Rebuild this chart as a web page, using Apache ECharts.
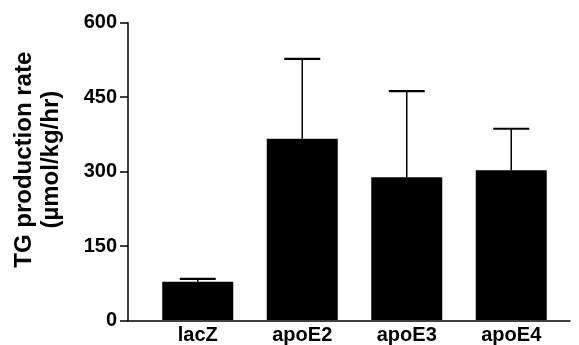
<!DOCTYPE html>
<html>
<head>
<meta charset="utf-8">
<script src="https://cdn.jsdelivr.net/npm/echarts@6/dist/echarts.min.js"></script>
<style>
html,body{margin:0;padding:0;background:#fff;}
#chart{width:579px;height:345px;}
</style>
</head>
<body>
<div id="chart"></div>
<script>
const categories = ['lacZ', 'apoE2', 'apoE3', 'apoE4'];
const means = [77, 366, 288, 302];
const upperErr = [83, 527, 462, 386];
const yMin = 0, yMax = 600, yStep = 150;

const FONT = '"Liberation Sans", Arial, sans-serif';
const chart = echarts.init(document.getElementById('chart'));

const errData = categories.map((c, i) => [i, means[i], upperErr[i]]);

chart.setOption({
  animation: false,
  backgroundColor: '#fff',
  grid: [
    {left: 145.5, right: 15.5, top: 22.7, bottom: 24.3},
    {left: 128, right: 9, top: 22.7, bottom: 24.3}
  ],
  xAxis: [
    {
      gridIndex: 0, type: 'category', data: categories,
      axisLine: {show: false}, axisTick: {show: false},
      axisLabel: {color: '#000', fontFamily: FONT, fontWeight: 'bold', fontSize: 20, margin: 5}
    },
    {
      gridIndex: 1, type: 'value', min: 0, max: 1,
      axisLine: {show: true, lineStyle: {color: '#000', width: 1.5}},
      axisTick: {show: false}, axisLabel: {show: false}, splitLine: {show: false}
    }
  ],
  yAxis: [
    {gridIndex: 0, type: 'value', min: yMin, max: yMax, show: false},
    {
      gridIndex: 1, type: 'value', min: yMin, max: yMax, interval: yStep,
      axisLine: {show: true, lineStyle: {color: '#000', width: 1.5}},
      axisTick: {show: true, inside: false, length: 8, lineStyle: {color: '#000', width: 1.5}},
      axisLabel: {color: '#000', fontFamily: FONT, fontWeight: 'bold', fontSize: 20, margin: 11},
      splitLine: {show: false},
      name: 'TG production rate\n(\u00b5mol/kg/hr)',
      nameLocation: 'middle', nameRotate: 90, nameGap: 63,
      nameTextStyle: {color: '#000', fontFamily: FONT, fontWeight: 'bold', fontSize: 24, lineHeight: 27, padding: [0, 0, 0, 24]}
    }
  ],
  series: [
    {
      type: 'bar', xAxisIndex: 0, yAxisIndex: 0,
      data: means, barWidth: 71,
      itemStyle: {color: '#000'}
    },
    {
      type: 'custom', xAxisIndex: 0, yAxisIndex: 0,
      data: errData,
      renderItem: function (params, api) {
        const base = api.coord([api.value(0), api.value(1)]);
        const top = api.coord([api.value(0), api.value(2)]);
        const hw = 18;
        return {
          type: 'group',
          children: [
            {type: 'line', shape: {x1: base[0], y1: base[1], x2: top[0], y2: top[1]}, style: {stroke: '#000', lineWidth: 1.5}},
            {type: 'line', shape: {x1: top[0] - hw, y1: top[1], x2: top[0] + hw, y2: top[1]}, style: {stroke: '#000', lineWidth: 2.2}}
          ]
        };
      },
      z: 3
    }
  ]
});
</script>
</body>
</html>
